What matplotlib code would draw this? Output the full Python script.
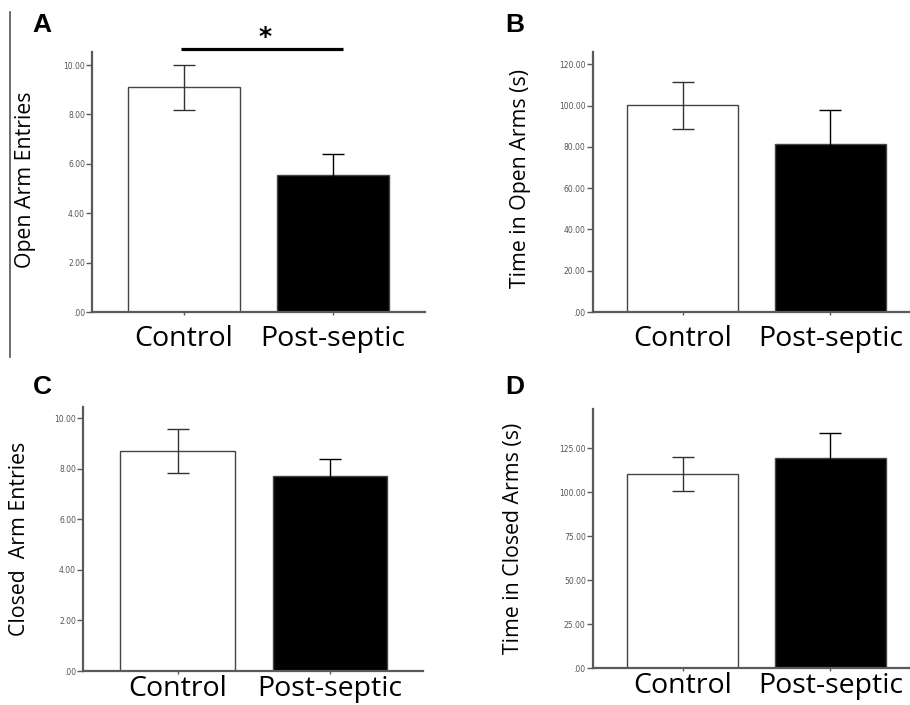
import matplotlib

matplotlib.use("Agg")
import matplotlib.pyplot as plt
from matplotlib.lines import Line2D

groups = ["Control", "Post-septic"]

open_entries = [9.10, 5.57]
open_entries_err = [0.90, 0.85]

open_time = [100.1, 81.4]
open_time_err = [11.2, 16.5]

closed_entries = [8.71, 7.73]
closed_entries_err = [0.87, 0.65]

closed_time = [110.4, 119.3]
closed_time_err = [9.6, 14.6]

panels = [
    # label, ylabel, values, errors, ticks, ymax, axes rect, xlim, ylabel pos, xlabel pad
    ("A", "Open Arm Entries", open_entries, open_entries_err,
     [0, 2, 4, 6, 8, 10], 10.53, [0.1011, 0.5574, 0.3659, 0.3688], (-0.617, 1.617),
     (-0.201, 0.508), 7),
    ("B", "Time in Open Arms (s)", open_time, open_time_err,
     [0, 20, 40, 60, 80, 100, 120], 126.0, [0.6513, 0.5574, 0.3487, 0.3688], (-0.61, 1.54),
     (-0.226, 0.513), 7),
    ("C", "Closed  Arm Entries", closed_entries, closed_entries_err,
     [0, 2, 4, 6, 8, 10], 10.46, [0.0912, 0.0482, 0.3736, 0.3749], (-0.62, 1.61),
     (-0.187, 0.499), 0.5),
    ("D", "Time in Closed Arms (s)", closed_time, closed_time_err,
     [0, 25, 50, 75, 100, 125], 147.2, [0.6513, 0.0521, 0.3487, 0.3674], (-0.61, 1.54),
     (-0.25, 0.501), 0.5),
]

label_font = "Open Sans"
axis_col = "#5a5a5a"
bar_fill = ["white", "black"]
err_col = ["#333333", "black"]

fig = plt.figure(figsize=(9.1, 7.05), dpi=100)
fig.patch.set_facecolor("white")

axes = {}
for letter, ylabel, vals, errs, ticks, ymax, rect, xlim, ylab_xy, xpad in panels:
    ax = fig.add_axes(rect)
    axes[letter] = ax
    xs = [0, 1]
    ax.bar(xs, vals, width=0.75, color=bar_fill,
           edgecolor="#444444", linewidth=1.0, zorder=2)
    for i in xs:
        ax.errorbar(xs[i], vals[i], yerr=errs[i], fmt="none", ecolor=err_col[i],
                    elinewidth=1.0, capsize=8, capthick=1.0, zorder=3)
    ax.set_xlim(*xlim)
    ax.set_ylim(0, ymax)

    ax.set_yticks(ticks)
    ax.set_yticklabels([".00" if t == 0 else f"{t:.2f}" for t in ticks],
                       fontsize=5.5, color="#555555", family="DejaVu Sans")
    ax.tick_params(axis="y", length=4, width=1.0, color=axis_col, pad=1)

    ax.set_xticks(xs)
    ax.set_xticklabels(groups, fontsize=20.5, family=label_font)
    ax.tick_params(axis="x", length=2.5, width=1.0, color=axis_col, pad=xpad)

    ax.set_ylabel(ylabel, fontsize=15.3, family=label_font, va="center")
    ax.yaxis.set_label_coords(*ylab_xy)

    for side in ["top", "right"]:
        ax.spines[side].set_visible(False)
    for side in ["left", "bottom"]:
        ax.spines[side].set_color(axis_col)
        ax.spines[side].set_linewidth(1.6)

# panel letters
for letter, (x, y) in {"A": (0.036, 0.964), "B": (0.555, 0.964),
                       "C": (0.036, 0.451), "D": (0.555, 0.451)}.items():
    fig.text(x, y, letter, fontsize=19, fontweight="bold",
             family="Liberation Sans", ha="left", va="center")

# significance bar for panel A
axA = axes["A"]
axA.plot([-0.02, 1.07], [10.65, 10.65], color="black", linewidth=2.3,
         clip_on=False, solid_capstyle="butt")
axA.text(0.545, 11.15, "*", fontsize=18, fontweight="bold", ha="center",
         va="center", family="DejaVu Sans")

# thin vertical rule at the far left of the top row
fig.add_artist(Line2D([0.011, 0.011], [1 - 12 / 705, 1 - 357 / 705],
                      color="#555555", linewidth=1.2))

fig.savefig("out.png", dpi=100, facecolor="white")
